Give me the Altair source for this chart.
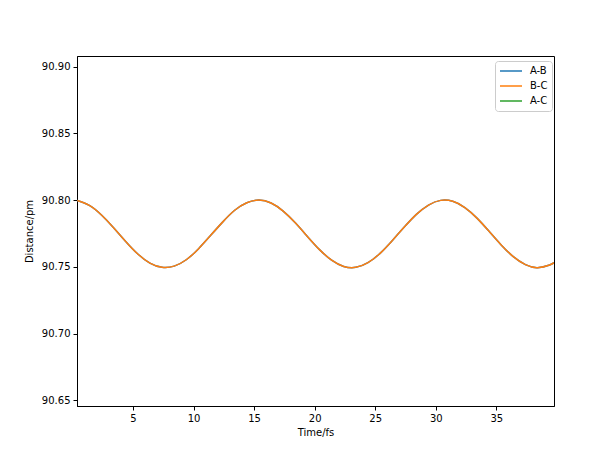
import pandas as pd
import altair as alt

# time axis (fs) and bond distance (pm)
times = [0.4, 1.4, 2.4, 3.4, 4.4, 5.4, 6.4, 7.4, 8.4, 9.4,
         10.4, 11.4, 12.4, 13.4, 14.4, 15.4, 16.4, 17.4, 18.4, 19.4,
         20.4, 21.4, 22.4, 23.4, 24.4, 25.4, 26.4, 27.4, 28.4, 29.4,
         30.4, 31.4, 32.4, 33.4, 34.4, 35.4, 36.4, 37.4, 38.4, 39.4, 39.76]
dist_ab = [90.7997, 90.7960, 90.7888, 90.7793, 90.7690, 90.7596, 90.7528, 90.7496, 90.7505, 90.7553,
           90.7634, 90.7734, 90.7835, 90.7924, 90.7980, 90.8000, 90.7978, 90.7918, 90.7830, 90.7728,
           90.7629, 90.7550, 90.7503, 90.7496, 90.7531, 90.7601, 90.7696, 90.7798, 90.7893, 90.7963,
           90.7998, 90.7991, 90.7944, 90.7865, 90.7766, 90.7664, 90.7576, 90.7516, 90.7494, 90.7514, 90.7531]
dist_bc = list(dist_ab)  # B-C lies exactly on top of A-B

series = ["A-B", "B-C", "A-C"]
colors = ["#1f77b4", "#ff7f0e", "#2ca02c"]
y_ticks = [90.65, 90.70, 90.75, 90.80, 90.85, 90.90]
x_ticks = [5, 10, 15, 20, 25, 30, 35]

df = pd.concat([
    pd.DataFrame({"t": times, "d": dist_ab, "pair": "A-B", "order": 0}),
    pd.DataFrame({"t": times, "d": dist_bc, "pair": "B-C", "order": 1}),
])

font = "DejaVu Sans"

chart = alt.Chart(df).mark_line(strokeWidth=1.5, interpolate="natural", clip=True).encode(
    x=alt.X("t:Q", title="Time/fs",
            scale=alt.Scale(domain=[0.38, 39.76], nice=False, zero=False),
            axis=alt.Axis(values=x_ticks, grid=False, format="d")),
    y=alt.Y("d:Q", title="Distance/pm",
            scale=alt.Scale(domain=[90.6457, 90.908], nice=False, zero=False),
            axis=alt.Axis(values=y_ticks, grid=False, format=".2f")),
    color=alt.Color("pair:N", scale=alt.Scale(domain=series, range=colors),
                    legend=alt.Legend(title=None, orient="none", legendX=418, legendY=5,
                                      symbolType="stroke", symbolSize=484, symbolStrokeWidth=1.5,
                                      labelFontSize=10, labelFont=font, labelColor="black",
                                      labelOffset=7, rowPadding=3, padding=4, clipHeight=12,
                                      strokeColor="#cccccc", cornerRadius=3, fillColor="white")),
    order=alt.Order("order:Q"),
    detail="pair:N",
).properties(
    width=477, height=350,
    autosize=alt.AutoSizeParams(type="none"),
    padding={"left": 69, "top": 48, "right": 50, "bottom": 50},
).configure_view(
    stroke="black", strokeWidth=1
).configure_axis(
    domainColor="black", tickColor="black", labelColor="black", titleColor="black",
    labelFont=font, titleFont=font, labelFontSize=10, titleFontSize=10,
    titleFontWeight="normal", tickSize=4, labelPadding=3, domainWidth=1
).configure_axisX(
    titlePadding=4
).configure_axisY(
    titlePadding=7
)

chart.save("out.html", embed_options={"renderer": "svg", "actions": False})
